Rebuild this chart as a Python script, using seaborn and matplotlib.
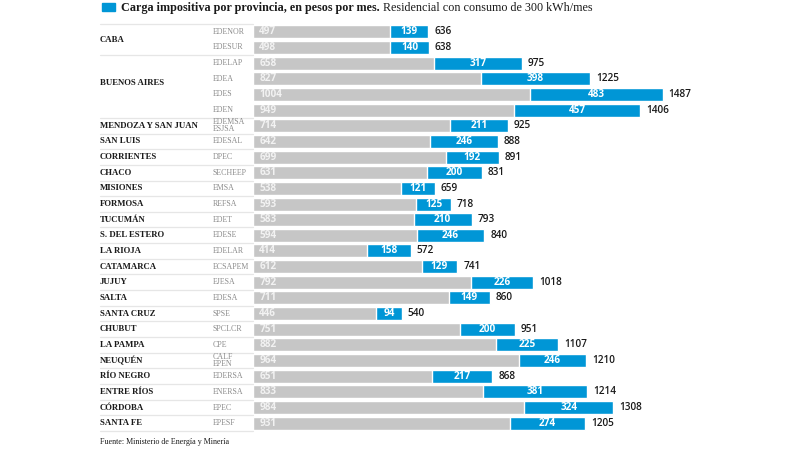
import matplotlib
matplotlib.use('Agg')
import matplotlib.pyplot as plt
from matplotlib.lines import Line2D
from matplotlib.patches import Rectangle
import matplotlib.transforms as mtransforms
import pandas as pd
import seaborn as sns

# provincia de cada fila ('' = misma provincia que la fila anterior)
provincias = ['CABA', '', 'BUENOS AIRES', '', '', '',
              'MENDOZA Y SAN JUAN', 'SAN LUIS', 'CORRIENTES', 'CHACO',
              'MISIONES', 'FORMOSA', 'TUCUMÁN', 'S. DEL ESTERO', 'LA RIOJA',
              'CATAMARCA', 'JUJUY', 'SALTA', 'SANTA CRUZ', 'CHUBUT',
              'LA PAMPA', 'NEUQUÉN', 'RÍO NEGRO', 'ENTRE RÍOS', 'CÓRDOBA',
              'SANTA FE']
distribuidoras = ['EDENOR', 'EDESUR', 'EDELAP', 'EDEA', 'EDES', 'EDEN',
                  'EDEMSA\nESJSA', 'EDESAL', 'DPEC', 'SECHEEP', 'EMSA',
                  'REFSA', 'EDET', 'EDESE', 'EDELAR', 'ECSAPEM', 'EJESA',
                  'EDESA', 'SPSE', 'SPCLCR', 'CPE', 'CALF\nEPEN', 'EDERSA',
                  'ENERSA', 'EPEC', 'EPESF']
sin_impuestos = [497, 498, 658, 827, 1004, 949, 714, 642, 699, 631, 538,
                 593, 583, 594, 414, 612, 792, 711, 446, 751, 882, 964, 651,
                 833, 984, 931]
impuestos = [139, 140, 317, 398, 483, 457, 211, 246, 192, 200, 121, 125,
             210, 246, 158, 129, 226, 149, 94, 200, 225, 246, 217, 381, 324,
             274]
totales = [636, 638, 975, 1225, 1487, 1406, 925, 888, 891, 831, 659, 718,
           793, 840, 572, 741, 1018, 860, 540, 951, 1107, 1210, 868, 1214,
           1308, 1205]

GRIS = '#c6c6c6'
AZUL = '#0096d6'
SERIF = ['Liberation Serif', 'DejaVu Serif']
SANS = ['Open Sans', 'DejaVu Sans']

df = pd.DataFrame({'dist': distribuidoras, 'base': sin_impuestos,
                   'imp': impuestos, 'total': totales})

sns.set_style('white')
fig = plt.figure(figsize=(8, 4.5), dpi=100)
W, H = 800, 450
ax = fig.add_axes([253.3 / W, 1 - 431 / H, (780 - 253.3) / W, (431 - 24) / H])

sns.barplot(data=df, y='dist', x='total', color=AZUL, width=0.83,
            saturation=1, ax=ax, orient='h')
sns.barplot(data=df, y='dist', x='base', color=GRIS, width=0.83,
            saturation=1, ax=ax, orient='h')

px = 1 / 0.2752  # unidades por pixel
ax.set_xlim(0, (780 - 253.3) * px)
ax.set_ylim(len(df) - 0.5, -0.5)
ax.axis('off')

for i, (b, t, tot) in enumerate(zip(sin_impuestos, impuestos, totales)):
    ax.text(6 * px, i, str(b), color='#f2f2f2', fontsize=7.2,
            fontweight='bold', family=SANS, va='center', ha='left')
    ax.text(b + t / 2, i, str(t), color='white', fontsize=7.2,
            fontweight='bold', family=SANS, va='center', ha='center')
    ax.text(tot + 6 * px, i, str(tot), color='#1a1a1a', fontsize=7.2,
            fontweight='semibold', family=SANS, va='center', ha='left')

# etiquetas a la izquierda
tr = mtransforms.blended_transform_factory(fig.transFigure, ax.transData)
grupos = []
for i, p in enumerate(provincias):
    if p:
        grupos.append([p, i, i])
    else:
        grupos[-1][2] = i

for p, a, b in grupos:
    yc = (a + b) / 2 - (0.2 if b - a > 1 else 0)
    ax.text(100 / W, yc, p, transform=tr, fontsize=6.3,
            fontweight='bold', family=SERIF, color='#1a1a1a',
            va='center', ha='left', clip_on=False)
    ax.add_line(Line2D([100 / W, 253 / W], [a - 0.5, a - 0.5], transform=tr,
                       color='#e6e6e6', lw=0.9, clip_on=False))
ax.add_line(Line2D([100 / W, 253 / W], [len(df) - 0.5, len(df) - 0.5],
                   transform=tr, color='#e6e6e6', lw=0.9, clip_on=False))

for i, d in enumerate(distribuidoras):
    ax.text(212.5 / W, i, d, transform=tr, fontsize=5.7, family=SERIF,
            color='#8a8a8a', va='center', ha='left', linespacing=0.85,
            clip_on=False)

# titulo
fig.patches.append(Rectangle((102 / W, 1 - 11 / H), 13 / W, 8 / H,
                             transform=fig.transFigure, color=AZUL))
t1 = fig.text(121 / W, 1 - 11 / H, 'Carga impositiva por provincia, en pesos por mes.',
              fontsize=8.7, fontweight='bold', family=SERIF, color='#1a1a1a',
              va='baseline', ha='left')
ax.annotate(' Residencial con consumo de 300 kWh/mes', xy=(1, 0),
            xycoords=t1, va='bottom', ha='left', fontsize=8.7,
            family=SERIF, color='#1a1a1a', annotation_clip=False)

fig.text(100 / W, 1 - 442 / H, 'Fuente: Ministerio de Energía y Minería',
         fontsize=5.8, family=SERIF, color='#1a1a1a', va='center', ha='left')

fig.savefig('out.png', dpi=100, facecolor='white')
